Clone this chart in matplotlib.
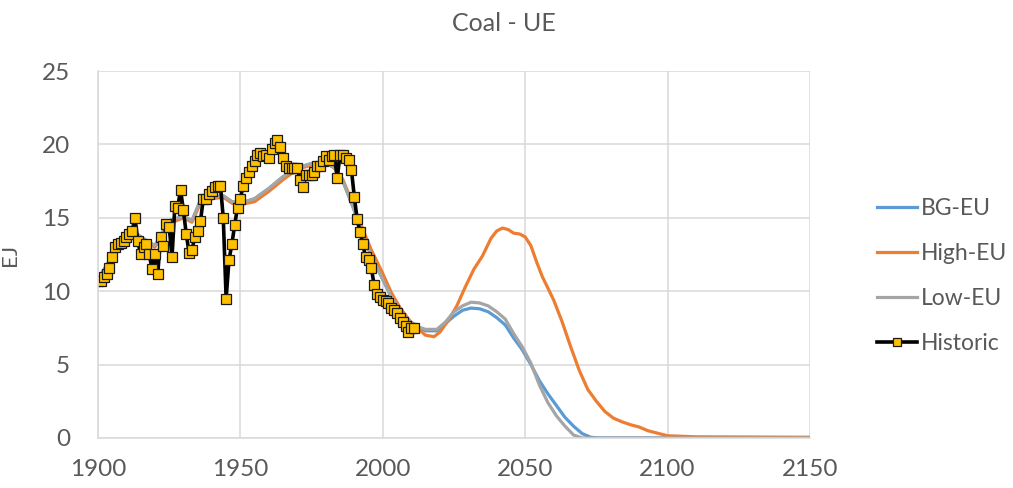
import matplotlib.pyplot as plt
import numpy as np

plt.rcParams["font.family"] = ["Lato", "DejaVu Sans"]

BG_COLOR = "#5B9BD5"
HIGH_COLOR = "#ED7D31"
LOW_COLOR = "#A5A5A5"
MARKER_COLOR = "#FFC000"
TEXT_COLOR = "#595959"
GRID_COLOR = "#D9D9D9"

# historic data, one value per year from 1900
hist_years = np.arange(1900, 2012)
hist_values = [
    10.7, 10.7, 11.0, 11.2, 11.6, 12.3, 13.0, 13.2, 13.3, 13.4,
    13.7, 13.9, 14.1, 15.0, 13.4, 12.5, 13.0, 13.2, 12.5, 11.5,
    12.5, 11.2, 13.7, 13.1, 14.6, 14.4, 12.3, 15.8, 15.7, 16.9,
    15.5, 13.9, 12.6, 12.8, 13.7, 14.1, 14.8, 16.3, 16.3, 16.6,
    16.8, 17.1, 17.2, 17.2, 15.0, 9.5, 12.1, 13.2, 14.5, 15.7,
    16.3, 17.2, 17.7, 18.1, 18.5, 18.9, 19.3, 19.4, 19.2, 19.3,
    19.05, 19.7, 20.1, 20.3, 19.85, 19.1, 18.5, 18.4, 18.4, 18.4,
    18.4, 17.6, 17.1, 17.9, 17.9, 17.9, 18.15, 18.5, 18.5, 18.85,
    19.2, 18.95, 19.2, 19.3, 17.7, 19.3, 19.3, 19.05, 18.95, 18.25,
    16.45, 14.9, 14.05, 13.2, 12.3, 12.15, 11.55, 10.4, 9.8, 9.6,
    9.4, 9.3, 9.2, 8.85, 8.7, 8.5, 8.2, 7.9, 7.6, 7.2,
    7.5, 7.5,
]

# scenario curves (fitted past + projection)
past_years = [1900, 1905, 1910, 1913, 1915, 1920, 1925, 1930, 1933, 1936,
              1940, 1944, 1947, 1950, 1955, 1960, 1965, 1970, 1975, 1980,
              1983, 1986, 1990, 1993, 1996, 2000, 2003, 2006, 2009, 2012]
low_past = [10.8, 12.4, 13.7, 14.0, 13.7, 13.1, 14.8, 15.1, 14.8, 16.2,
            16.4, 16.5, 16.1, 16.0, 16.3, 17.0, 17.8, 18.4, 18.7, 18.8,
            18.4, 17.5, 15.5, 13.8, 12.4, 10.8, 9.6, 8.7, 8.0, 7.6]
high_past = [10.8, 12.3, 13.6, 13.9, 13.6, 13.0, 14.6, 15.0, 14.7, 16.0,
             16.3, 16.4, 16.0, 15.9, 16.1, 16.8, 17.6, 18.3, 18.6, 18.7,
             18.4, 17.6, 15.7, 14.2, 12.8, 11.2, 9.9, 8.9, 8.1, 7.5]

bg_future_years = [2015, 2019, 2022, 2025, 2028, 2031, 2034, 2037, 2040, 2043,
                   2046, 2049, 2052, 2055, 2058, 2061, 2064, 2067, 2070, 2073,
                   2076, 2100, 2150]
bg_future = [7.3, 7.3, 7.8, 8.3, 8.7, 8.85, 8.8, 8.6, 8.2, 7.7,
             6.8, 6.0, 5.0, 3.9, 3.0, 2.2, 1.4, 0.8, 0.3, 0.05,
             0.0, 0.0, 0.0]

low_future_years = [2015, 2019, 2022, 2025, 2028, 2031, 2034, 2037, 2040, 2043,
                    2046, 2049, 2052, 2055, 2058, 2061, 2064, 2067, 2070, 2100,
                    2150]
low_future = [7.4, 7.4, 7.9, 8.6, 9.0, 9.25, 9.2, 9.0, 8.6, 8.1,
              7.1, 6.2, 5.1, 3.6, 2.4, 1.5, 0.8, 0.2, 0.0, 0.0,
              0.0]

high_future_years = [2015, 2018, 2020, 2023, 2026, 2029, 2032, 2035, 2038, 2040,
                     2042, 2044, 2046, 2048, 2050, 2052, 2054, 2056, 2058, 2060,
                     2063, 2066, 2069, 2072, 2075, 2078, 2081, 2084, 2087, 2090,
                     2093, 2096, 2100, 2110, 2150]
high_future = [7.0, 6.9, 7.2, 8.0, 9.0, 10.3, 11.5, 12.4, 13.6, 14.1,
               14.3, 14.2, 13.95, 13.9, 13.7, 13.1, 12.0, 11.0, 10.2, 9.4,
               7.9, 6.2, 4.6, 3.3, 2.5, 1.8, 1.35, 1.1, 0.9, 0.75,
               0.5, 0.35, 0.15, 0.08, 0.05]


def main():
    fig = plt.figure(figsize=(10.13, 4.88), dpi=100)
    ax = fig.add_axes([0.0967, 0.1025, 0.7029, 0.752])

    ax.plot(past_years + bg_future_years, low_past + bg_future,
            color=BG_COLOR, linewidth=2.3, label="BG-EU")
    ax.plot(past_years + high_future_years, high_past + high_future,
            color=HIGH_COLOR, linewidth=2.3, label="High-EU")
    ax.plot(past_years + low_future_years, low_past + low_future,
            color=LOW_COLOR, linewidth=2.3, label="Low-EU")
    ax.plot(hist_years, hist_values, color="black", linewidth=2.6,
            marker="s", markersize=6.6, markerfacecolor=MARKER_COLOR,
            markeredgecolor="#1a1a1a", markeredgewidth=0.9, label="Historic")

    ax.set_xlim(1900, 2150)
    ax.set_ylim(0, 25)
    ax.set_xticks(range(1900, 2151, 50))
    ax.set_yticks(range(0, 26, 5))
    ax.tick_params(length=0, labelsize=17.5, colors=TEXT_COLOR)
    ax.tick_params(axis="x", pad=15)
    ax.tick_params(axis="y", pad=20)
    ax.grid(True, color=GRID_COLOR, linewidth=1.1)
    ax.set_axisbelow(True)
    for side in ["top", "right"]:
        ax.spines[side].set_visible(False)
    for side in ["left", "bottom"]:
        ax.spines[side].set_color(GRID_COLOR)
        ax.spines[side].set_linewidth(1.1)

    ax.set_ylabel("EJ", fontsize=16, color=TEXT_COLOR, labelpad=16)
    fig.text(0.497, 0.952, "Coal - UE", ha="center", va="center",
             fontsize=18, color=TEXT_COLOR)

    fig.legend(loc="center left", bbox_to_anchor=(0.845, 0.435),
               frameon=False, fontsize=16.5, labelcolor=TEXT_COLOR,
               handlelength=1.75, handletextpad=0.2, labelspacing=1.05,
               markerscale=0.8)

    fig.savefig("out.png", dpi=100)


if __name__ == "__main__":
    main()
